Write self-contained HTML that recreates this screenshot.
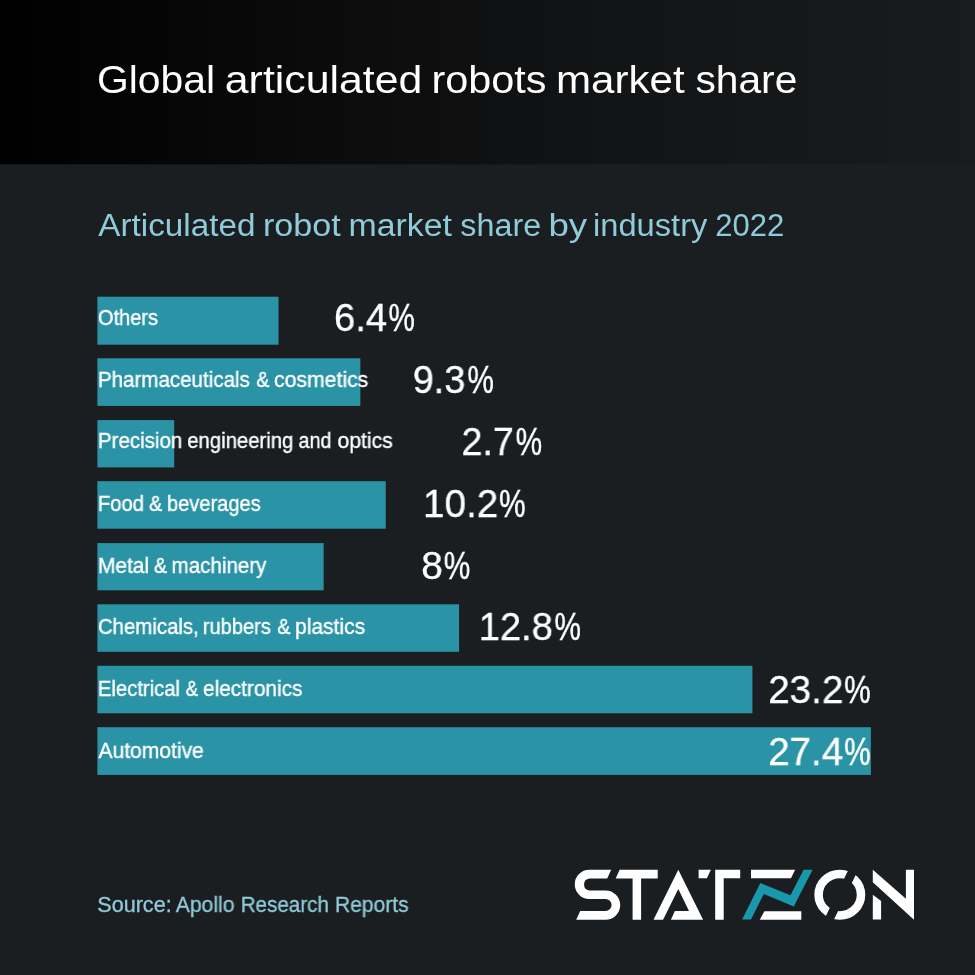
<!DOCTYPE html>
<html>
<head>
<meta charset="utf-8">
<title>Global articulated robots market share</title>
<style>
  html, body { margin: 0; padding: 0; }
  body { width: 975px; height: 975px; overflow: hidden; background: #1b1e21; font-family: "Liberation Sans", sans-serif; }
  #page { position: relative; width: 975px; height: 975px; overflow: hidden; background: #1b1e21; }
  .t { position: absolute; display: block; white-space: nowrap; line-height: 1; margin: 0; transform-origin: 0 0; will-change: transform; font-family: "Liberation Sans", sans-serif; }
  .line, .row { margin: 0; padding: 0; font-size: 0; font-weight: normal; line-height: 0; height: 0; }
  .i { position: relative; }
  #logo { position: absolute; left: 0; top: 0; }
</style>
</head>
<body>
<div id="page">
  <svg id="bars" width="975" height="975" viewBox="0 0 975 975" style="position:absolute;left:0;top:0">
    <defs><linearGradient id="hg" x1="0" y1="0" x2="1" y2="0"><stop offset="0" stop-color="#000000"/><stop offset="0.3" stop-color="#0a0a0b"/><stop offset="0.6" stop-color="#121314"/><stop offset="1" stop-color="#1a1b1e"/></linearGradient></defs>
    <rect x="0" y="0" width="975" height="164.35" fill="url(#hg)"/>
    <g fill="#2b93a6">
      <rect x="97.40" y="296.70" width="181.14" height="48.00"/>
      <rect x="97.40" y="358.30" width="262.94" height="47.60"/>
      <rect x="97.40" y="420.10" width="76.78" height="47.30"/>
      <rect x="97.40" y="481.20" width="288.33" height="47.50"/>
      <rect x="97.40" y="543.10" width="226.27" height="47.20"/>
      <rect x="97.40" y="604.30" width="361.66" height="47.50"/>
      <rect x="97.40" y="665.80" width="655.01" height="47.50"/>
      <rect x="97.40" y="727.20" width="773.47" height="47.70"/>
    </g>
  </svg>
  <h1 class="line title"><span class="t" style="left:96px;top:61px;font-size:38px;color:#ffffff;transform:scaleX(1.0752);"><span class="i" style="left:0.90px">Global </span></span><span class="t" style="left:224px;top:61px;font-size:38px;color:#ffffff;transform:scaleX(1.1272);"><span class="i" style="left:0.71px">articulated </span></span><span class="t" style="left:431px;top:61px;font-size:38px;color:#ffffff;transform:scaleX(1.0885);"><span class="i" style="left:0.53px">robots </span></span><span class="t" style="left:556px;top:61px;font-size:38px;color:#ffffff;transform:scaleX(1.1076);"><span class="i" style="left:0.01px">market </span></span><span class="t" style="left:695px;top:61px;font-size:38px;color:#ffffff;transform:scaleX(1.0715);"><span class="i" style="left:0.44px">share</span></span></h1>
  <h2 class="line subtitle"><span class="t" style="left:98px;top:210px;font-size:31px;color:#90cbda;transform:scaleX(1.0726);"><span class="i" style="left:0.34px">Articulated </span></span><span class="t" style="left:262px;top:210px;font-size:31px;color:#90cbda;transform:scaleX(1.0994);"><span class="i" style="left:0.85px">robot </span></span><span class="t" style="left:348px;top:210px;font-size:31px;color:#90cbda;transform:scaleX(1.0914);"><span class="i" style="left:0.41px">market </span></span><span class="t" style="left:460px;top:210px;font-size:31px;color:#90cbda;transform:scaleX(1.0412);"><span class="i" style="left:0.36px">share </span></span><span class="t" style="left:548px;top:210px;font-size:31px;color:#90cbda;transform:scaleX(1.1839);"><span class="i" style="left:0.34px">by </span></span><span class="t" style="left:593px;top:210px;font-size:31px;color:#90cbda;transform:scaleX(1.0532);"><span class="i" style="left:0.02px">industry </span></span><span class="t" style="left:715px;top:210px;font-size:31px;color:#90cbda;transform:scaleX(1.0003);"><span class="i" style="left:0.37px">2022</span></span></h2>
  <div class="row">
    <div class="line label"><span class="t" style="left:97px;top:308px;font-size:21.4px;color:#ffffff;transform:scaleX(0.9362);-webkit-text-stroke:0.35px #ffffff;"><span class="i" style="left:1.00px">Others</span></span></div>
    <div class="line value"><span class="t" style="left:334px;top:298px;font-size:39px;color:#ffffff;transform:scaleX(0.9787);-webkit-text-stroke:0.3px #ffffff;"><span class="i" style="left:0.01px">6.4</span></span><span class="t" style="left:388px;top:298px;font-size:39px;color:#ffffff;transform:scaleX(0.7613);-webkit-text-stroke:0.45px #ffffff;"><span class="i" style="left:0.39px">%</span></span></div>
  </div>
  <div class="row">
    <div class="line label"><span class="t" style="left:97px;top:370px;font-size:21.4px;color:#ffffff;transform:scaleX(0.9614);-webkit-text-stroke:0.35px #ffffff;"><span class="i" style="left:0.88px">Pharmaceuticals </span></span><span class="t" style="left:256px;top:370px;font-size:21.4px;color:#ffffff;transform:scaleX(0.9195);-webkit-text-stroke:0.35px #ffffff;"><span class="i" style="left:0.34px">&amp; </span></span><span class="t" style="left:273px;top:370px;font-size:21.4px;color:#ffffff;transform:scaleX(0.9925);-webkit-text-stroke:0.35px #ffffff;"><span class="i" style="left:0.98px">cosmetics</span></span></div>
    <div class="line value"><span class="t" style="left:412px;top:360px;font-size:39px;color:#ffffff;transform:scaleX(0.9716);-webkit-text-stroke:0.3px #ffffff;"><span class="i" style="left:0.67px">9.3</span></span><span class="t" style="left:467px;top:360px;font-size:39px;color:#ffffff;transform:scaleX(0.7643);-webkit-text-stroke:0.45px #ffffff;"><span class="i" style="left:0.39px">%</span></span></div>
  </div>
  <div class="row">
    <div class="line label"><span class="t" style="left:97px;top:431px;font-size:21.4px;color:#ffffff;transform:scaleX(0.9583);-webkit-text-stroke:0.35px #ffffff;"><span class="i" style="left:0.99px">Precision </span></span><span class="t" style="left:187px;top:431px;font-size:21.4px;color:#ffffff;transform:scaleX(0.9498);-webkit-text-stroke:0.35px #ffffff;"><span class="i" style="left:0.20px">engineering </span></span><span class="t" style="left:298px;top:431px;font-size:21.4px;color:#ffffff;transform:scaleX(0.9253);-webkit-text-stroke:0.35px #ffffff;"><span class="i" style="left:0.55px">and </span></span><span class="t" style="left:337px;top:431px;font-size:21.4px;color:#ffffff;transform:scaleX(0.9879);-webkit-text-stroke:0.35px #ffffff;"><span class="i" style="left:0.58px">optics</span></span></div>
    <div class="line value"><span class="t" style="left:461px;top:422px;font-size:39px;color:#ffffff;transform:scaleX(0.9656);-webkit-text-stroke:0.3px #ffffff;"><span class="i" style="left:0.54px">2.7</span></span><span class="t" style="left:515px;top:422px;font-size:39px;color:#ffffff;transform:scaleX(0.7673);-webkit-text-stroke:0.45px #ffffff;"><span class="i" style="left:0.65px">%</span></span></div>
  </div>
  <div class="row">
    <div class="line label"><span class="t" style="left:97px;top:494px;font-size:21.4px;color:#ffffff;transform:scaleX(0.9444);-webkit-text-stroke:0.35px #ffffff;"><span class="i" style="left:1.02px">Food </span></span><span class="t" style="left:149px;top:494px;font-size:21.4px;color:#ffffff;transform:scaleX(0.9267);-webkit-text-stroke:0.35px #ffffff;"><span class="i" style="left:0.12px">&amp; </span></span><span class="t" style="left:166px;top:494px;font-size:21.4px;color:#ffffff;transform:scaleX(0.9385);-webkit-text-stroke:0.35px #ffffff;"><span class="i" style="left:1.00px">beverages</span></span></div>
    <div class="line value"><span class="t" style="left:423px;top:484px;font-size:39px;color:#ffffff;transform:scaleX(0.9911);-webkit-text-stroke:0.3px #ffffff;"><span class="i" style="left:0.08px">10.2</span></span><span class="t" style="left:499px;top:484px;font-size:39px;color:#ffffff;transform:scaleX(0.7673);-webkit-text-stroke:0.45px #ffffff;"><span class="i" style="left:0.00px">%</span></span></div>
  </div>
  <div class="row">
    <div class="line label"><span class="t" style="left:97px;top:556px;font-size:21.4px;color:#ffffff;transform:scaleX(0.9785);-webkit-text-stroke:0.35px #ffffff;"><span class="i" style="left:0.95px">Metal </span></span><span class="t" style="left:153px;top:556px;font-size:21.4px;color:#ffffff;transform:scaleX(0.9195);-webkit-text-stroke:0.35px #ffffff;"><span class="i" style="left:0.99px">&amp; </span></span><span class="t" style="left:171px;top:556px;font-size:21.4px;color:#ffffff;transform:scaleX(0.9611);-webkit-text-stroke:0.35px #ffffff;"><span class="i" style="left:0.60px">machinery</span></span></div>
    <div class="line value"><span class="t" style="left:421px;top:546px;font-size:39px;color:#ffffff;transform:scaleX(0.9920);-webkit-text-stroke:0.3px #ffffff;"><span class="i" style="left:0.20px">8</span></span><span class="t" style="left:443px;top:546px;font-size:39px;color:#ffffff;transform:scaleX(0.7613);-webkit-text-stroke:0.45px #ffffff;"><span class="i" style="left:1.05px">%</span></span></div>
  </div>
  <div class="row">
    <div class="line label"><span class="t" style="left:97px;top:617px;font-size:21.4px;color:#ffffff;transform:scaleX(0.9544);-webkit-text-stroke:0.35px #ffffff;"><span class="i" style="left:0.88px">Chemicals, </span></span><span class="t" style="left:202px;top:617px;font-size:21.4px;color:#ffffff;transform:scaleX(0.9383);-webkit-text-stroke:0.35px #ffffff;"><span class="i" style="left:0.85px">rubbers </span></span><span class="t" style="left:277px;top:617px;font-size:21.4px;color:#ffffff;transform:scaleX(0.9195);-webkit-text-stroke:0.35px #ffffff;"><span class="i" style="left:0.34px">&amp; </span></span><span class="t" style="left:295px;top:617px;font-size:21.4px;color:#ffffff;transform:scaleX(0.9824);-webkit-text-stroke:0.35px #ffffff;"><span class="i" style="left:0.00px">plastics</span></span></div>
    <div class="line value"><span class="t" style="left:478px;top:607px;font-size:39px;color:#ffffff;transform:scaleX(0.9762);-webkit-text-stroke:0.3px #ffffff;"><span class="i" style="left:0.69px">12.8</span></span><span class="t" style="left:554px;top:607px;font-size:39px;color:#ffffff;transform:scaleX(0.7673);-webkit-text-stroke:0.45px #ffffff;"><span class="i" style="left:0.39px">%</span></span></div>
  </div>
  <div class="row">
    <div class="line label"><span class="t" style="left:97px;top:679px;font-size:21.4px;color:#ffffff;transform:scaleX(0.9443);-webkit-text-stroke:0.35px #ffffff;"><span class="i" style="left:1.02px">Electrical </span></span><span class="t" style="left:185px;top:679px;font-size:21.4px;color:#ffffff;transform:scaleX(0.8761);-webkit-text-stroke:0.35px #ffffff;"><span class="i" style="left:0.83px">&amp; </span></span><span class="t" style="left:203px;top:679px;font-size:21.4px;color:#ffffff;transform:scaleX(0.9713);-webkit-text-stroke:0.35px #ffffff;"><span class="i" style="left:0.08px">electronics</span></span></div>
    <div class="line value"><span class="t" style="left:768px;top:670px;font-size:39px;color:#ffffff;transform:scaleX(0.9905);-webkit-text-stroke:0.3px #ffffff;"><span class="i" style="left:0.18px">23.2</span></span><span class="t" style="left:844px;top:670px;font-size:39px;color:#ffffff;transform:scaleX(0.7628);-webkit-text-stroke:0.45px #ffffff;"><span class="i" style="left:0.26px">%</span></span></div>
  </div>
  <div class="row">
    <div class="line label"><span class="t" style="left:98px;top:741px;font-size:21.4px;color:#ffffff;transform:scaleX(0.9840);-webkit-text-stroke:0.35px #ffffff;"><span class="i" style="left:0.47px">Automotive</span></span></div>
    <div class="line value"><span class="t" style="left:768px;top:732px;font-size:39px;color:#ffffff;transform:scaleX(0.9877);-webkit-text-stroke:0.3px #ffffff;"><span class="i" style="left:0.18px">27.4</span></span><span class="t" style="left:844px;top:732px;font-size:39px;color:#ffffff;transform:scaleX(0.7628);-webkit-text-stroke:0.45px #ffffff;"><span class="i" style="left:0.26px">%</span></span></div>
  </div>
  <p class="line source"><span class="t" style="left:97px;top:895px;font-size:21.4px;color:#90cbda;transform:scaleX(1.0093);-webkit-text-stroke:0.3px #90cbda;"><span class="i" style="left:0.24px">Source: </span></span><span class="t" style="left:175px;top:895px;font-size:21.4px;color:#90cbda;transform:scaleX(0.9900);-webkit-text-stroke:0.3px #90cbda;"><span class="i" style="left:0.64px">Apollo </span></span><span class="t" style="left:240px;top:895px;font-size:21.4px;color:#90cbda;transform:scaleX(0.9653);-webkit-text-stroke:0.3px #90cbda;"><span class="i" style="left:0.67px">Research </span></span><span class="t" style="left:335px;top:895px;font-size:21.4px;color:#90cbda;transform:scaleX(0.9824);-webkit-text-stroke:0.3px #90cbda;"><span class="i" style="left:0.02px">Reports</span></span></p>
  <svg id="logo" width="975" height="975" viewBox="0 0 975 975">
    <g fill="#ffffff">
      <path d="M611.2,869.7 L607.2,878.4 H589.35 A6.05,6.05 0 0 0 589.35,890.4 H605.55 A14.65,14.65 0 0 1 605.55,919.7 H576.2 L580.2,911.1 H605.55 A6.05,6.05 0 0 0 605.55,899 H589.35 A14.65,14.65 0 0 1 589.35,869.7 Z"/>
      <polygon points="619.6,869.7 657.7,869.7 657.7,878.4 641.1,878.4 641.1,919.8 632.6,919.8 632.6,878.4 615.7,878.4"/>
      <polygon points="653.5,919.8 678.3,869.7 703.1,919.8 670.9,919.8 674.9,911.1 689,911.1 678.3,889.1 663.05,919.8"/>
      <polygon points="698.6,869.7 710.9,869.7 706.9,878.3 698.6,878.3"/>
      <polygon points="715.2,869.7 740.2,869.7 740.2,878.3 723.7,878.3 723.7,919.8 715.2,919.8"/>
      <polygon points="751,869.7 795.1,869.7 791,878.3 751,878.3"/>
      <polygon points="764.4,911.2 801.3,911.2 801.3,919.7 759.7,919.7"/>
      <polygon points="872.8,869.7 905.9,898.7 905.9,869.7 914,869.7 914,919.8 872.8,882.3"/>
      <polygon points="872.8,894.7 881.1,900.9 881.1,919.6 872.8,919.6"/>
    </g>
    <polygon fill="#1997ab" points="742.1,919.5 751,919.5 763.8,894 793.8,906.6 812.6,869.7 803.6,869.7 790.5,895.3 760.3,883"/>
    <defs>
      <clipPath id="oc">
        <path clip-rule="evenodd" d="M800,850 H880 V940 H800 Z M850.74,865 L860.54,865 L828.85,930 L819.05,930 Z"/>
      </clipPath>
    </defs>
    <g clip-path="url(#oc)">
      <ellipse cx="839.8" cy="894.7" rx="21.2" ry="20.8" fill="none" stroke="#ffffff" stroke-width="8.5"/>
    </g>
  </svg>
</div>
</body>
</html>
